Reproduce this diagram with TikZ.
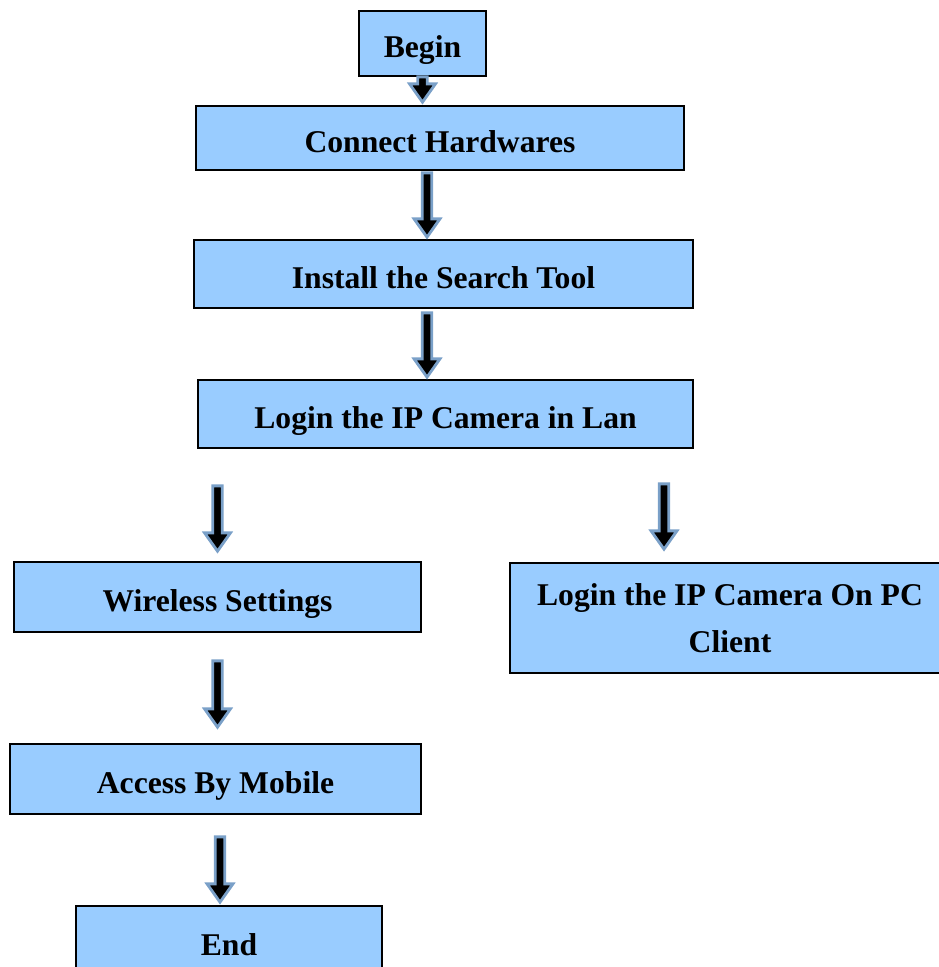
\documentclass[tikz,border=0pt]{standalone}
\usepackage{fontspec}
\setmainfont{Liberation Serif}
\usepackage{tikz}
\usetikzlibrary{calc}
\definecolor{stepblue}{RGB}{153,204,255}
\definecolor{arrowrim}{RGB}{122,160,200}
\newcommand{\px}{0.025cm}
\newcommand{\shafthalf}{3.4pt}
\newcommand{\headhalf}{9.2pt}
\newcommand{\headlength}{13pt}
\tikzstyle{stepbox}=[draw, fill=stepblue, line width=1.2pt, inner sep=0, align=center,
                     text depth=0pt, font=\fontsize{22.5}{33.5}\selectfont\bfseries,
                     % Push the text a little below the middle of the box.
                     execute at begin node={\rule{0pt}{20.5pt}}]
\tikzstyle{flowarrow}=[draw=arrowrim, fill=black, line width=2pt, line join=miter]
% Block arrow going straight down, x taken from the first point.
\newcommand{\flowarrow}[2]{\path[flowarrow] let \p1=(#1), \p2=(#2) in
    (\x1-\shafthalf,\y1) -- (\x1-\shafthalf,\y2+\headlength) -- (\x1-\headhalf,\y2+\headlength)
    -- (\x1,\y2) -- (\x1+\headhalf,\y2+\headlength) -- (\x1+\shafthalf,\y2+\headlength)
    -- (\x1+\shafthalf,\y1) -- cycle;}
\begin{document}
\begin{tikzpicture}[x=\px, y=-\px]
        \useasboundingbox (0, 0) rectangle (939, 967);
        \clip (0, 0) rectangle (939, 967);
        \node[stepbox, minimum width=127*\px, minimum height=65*\px] (begin) at (422.5, 43.5) {Begin};
        \node[stepbox, minimum width=488*\px, minimum height=64*\px] (connect) at (440, 138) {Connect Hardwares};
        \node[stepbox, minimum width=499*\px, minimum height=68*\px] (install) at (443.5, 274) {Install the Search Tool};
        \node[stepbox, minimum width=495*\px, minimum height=68*\px] (loginlan) at (445.5, 414) {Login the IP Camera in Lan};
        \node[stepbox, minimum width=407*\px, minimum height=70*\px] (wireless) at (217.5, 597) {Wireless Settings};
        \node[stepbox, minimum width=440*\px, minimum height=110*\px] (pcclient) at (730, 618) {Login the IP Camera On PC\\Client};
        \node[stepbox, minimum width=411*\px, minimum height=70*\px] (mobile) at (215.5, 779) {Access By Mobile};
        \node[stepbox, minimum width=306*\px, minimum height=70*\px] (stop) at (229, 941) {End};
        \flowarrow{begin.south}{$(connect.north)+(0,-3)$}
        \flowarrow{$(connect.south)+(-13,2)$}{$(install.north)+(0,-2)$}
        \flowarrow{$(install.south)+(-16.5,4)$}{$(loginlan.north)+(0,-2)$}
        \flowarrow{$(loginlan.south -| wireless.north)+(0,37)$}{$(wireless.north)+(0,-10)$}
        \flowarrow{$(loginlan.south -| pcclient.north)+(-66,35)$}{$(pcclient.north)+(0,-13)$}
        \flowarrow{$(wireless.south)+(0,28)$}{$(mobile.north)+(0,-16)$}
        \flowarrow{$(mobile.south)+(4.5,22)$}{$(stop.north)+(0,-3)$}
    \end{tikzpicture}
\end{document}
